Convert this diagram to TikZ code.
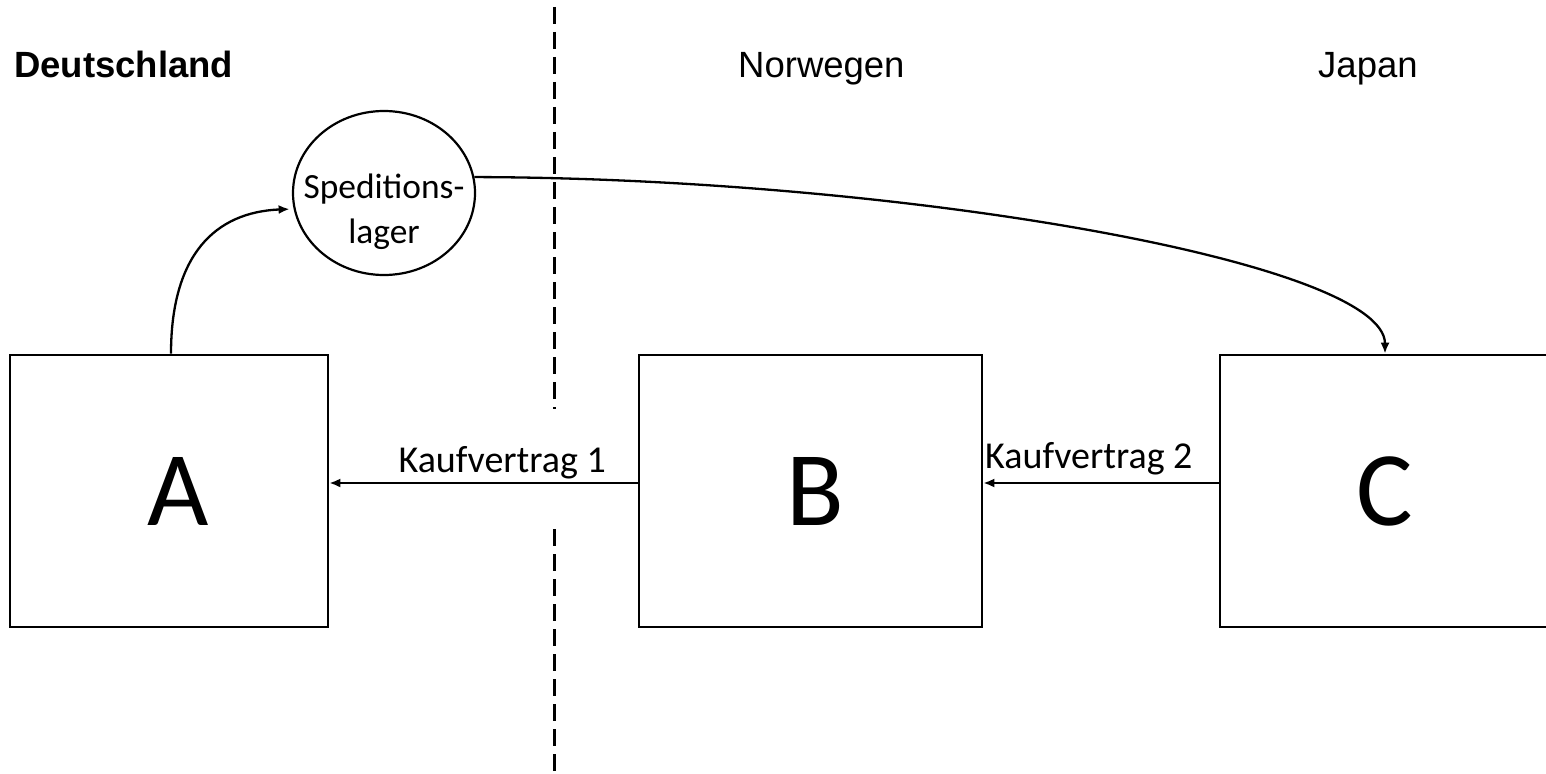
\documentclass[tikz,border=0pt]{standalone}
\usepackage{fontspec}
\setmainfont{Carlito}
\newfontfamily\arialfont{Liberation Sans}
\usetikzlibrary{arrows.meta,shapes.geometric}

\begin{document}
\begin{tikzpicture}[x=1pt,y=-1pt,
  party/.style={draw, line width=2.6pt, minimum height=272pt, inner sep=0pt,
                font=\fontsize{106}{120}\selectfont},
  depot/.style={draw, ellipse, line width=2.2pt, minimum width=182pt,
                minimum height=164pt, inner sep=0pt},
  conn/.style={line width=2.3pt, -{Latex[length=11pt,width=9pt]}},
  border/.style={line width=3pt, dash pattern=on 17pt off 8pt},
  country/.style={anchor=base west, inner sep=0pt,
                  font=\arialfont\fontsize{36.5}{44}\selectfont},
  contract/.style={inner sep=0pt, font=\fontsize{38}{44}\selectfont},
  depottext/.style={align=center, inner sep=0pt,
                    font=\fontsize{35.4}{45}\selectfont}]
  \useasboundingbox (0,0) rectangle (1546,773);
  \clip (0,0) rectangle (1546,773);

  % country headings
  \node[country, font=\arialfont\bfseries\fontsize{36.5}{44}\selectfont] (de) at (14,78) {Deutschland};
  \node[country] (no) at (738,78) {Norwegen};
  \node[country] (jp) at (1318,78) {Japan};

  % border between Germany and Norway
  \draw[border] (554,7) -- (554,409);
  \draw[border] (554,529) -- (554,773);

  % parties (letters set slightly right of the box centre)
  \node[party, minimum width=318pt] (a) at (169,491) {\hspace*{18pt}A};
  \node[party, minimum width=343pt] (b) at (810.5,491) {\hspace*{10pt}B};
  \node[party, minimum width=330pt] (c) at (1385,491) {C};

  % forwarding warehouse
  \node[depot] (spl) at (384,193) {};
  \node[depottext] (spltxt) at (384,212) {Speditions-\\lager};

  % flow of goods
  \draw[conn, shorten >=4pt] (a.north -| 171,0) .. controls (171,255) and (215,212) .. (spl.190);
  \draw[conn] (spl.10) .. controls (900,178) and (1385,262) .. (c.north);

  % sales contracts
  \draw[conn] ([yshift=8pt]b.west) -- ([yshift=8pt]a.east);
  \draw[conn] ([yshift=8pt]c.west) -- ([yshift=8pt]b.east);
  \node[contract, anchor=base east] (k1) at (606,472) {Kaufvertrag 1};
  \node[contract, anchor=base west] (k2) at (985,468) {Kaufvertrag 2};
\end{tikzpicture}
\end{document}
